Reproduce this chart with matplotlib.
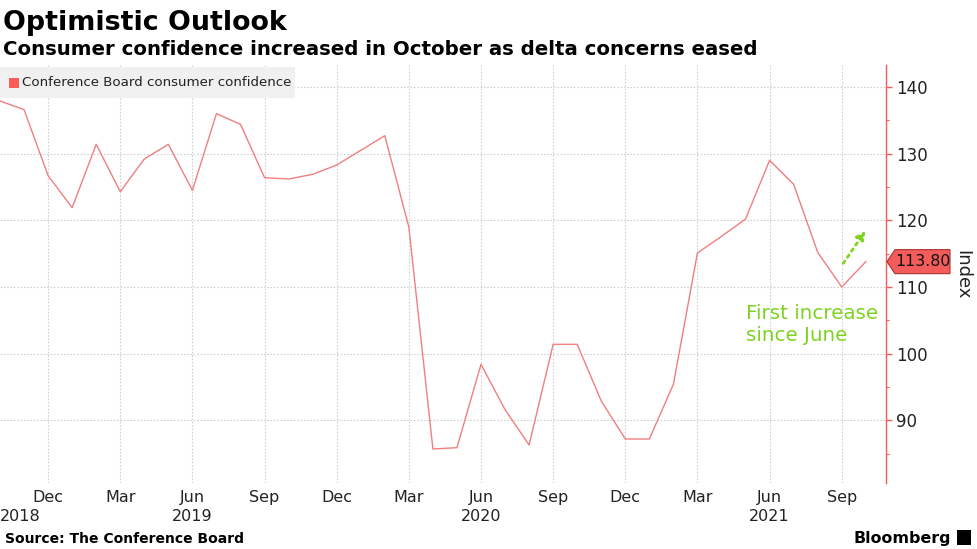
import numpy as np
import matplotlib
matplotlib.use("Agg")
import matplotlib.pyplot as plt
from matplotlib.transforms import blended_transform_factory, IdentityTransform

# monthly index, Oct 2018 .. Oct 2021
confidence = [137.9, 136.6, 126.7, 121.9, 131.4, 124.3, 129.2, 131.4, 124.5,
              136.0, 134.4, 126.4, 126.2, 126.9, 128.3, 130.5, 132.7, 119.0,
              85.7, 85.9, 98.4, 91.6, 86.3, 101.4, 101.4, 92.9, 87.2, 87.2,
              95.4, 115.1, 117.6, 120.2, 129.0, 125.4, 115.2, 110.0, 113.8]
tick_months = ["Dec", "Mar", "Jun", "Sep"] * 3
year_labels = {0: "2018", 8: "2019", 20: "2020", 32: "2021"}
y_ticks = [90, 100, 110, 120, 130, 140]

LINE = "#f07f80"
RED = "#f45b5b"
GREEN = "#7ed321"
TXT = "#222222"

plt.rcParams["font.family"] = ["DejaVu Sans"]

fig = plt.figure(figsize=(9.77, 5.49), dpi=100)
ax = fig.add_axes([0.0, 1 - 483 / 549, 886 / 977, (483 - 65) / 549])

x = np.arange(len(confidence))
ax.plot(x, confidence, color=LINE, lw=1.0, zorder=3)

ax.set_xlim(0, 36.84)
ax.set_ylim(80.6, 143.3)

# axes styling
for s in ["left", "top", "bottom"]:
    ax.spines[s].set_visible(False)
ax.spines["right"].set_color(RED)
ax.spines["right"].set_linewidth(1.0)
ax.yaxis.tick_right()
ax.set_yticks(y_ticks)
ax.set_yticks(np.arange(85, 141, 5), minor=True)
ax.tick_params(axis="y", which="major", colors=RED, length=4, width=1,
               labelcolor=TXT, labelsize=12, pad=3)
ax.tick_params(axis="y", which="minor", colors=RED, length=2.5, width=0.8)

xt = np.arange(2, 37, 3)
ax.set_xticks(xt)
ax.set_xticklabels(tick_months)
ax.tick_params(axis="x", length=0, labelsize=11.5, labelcolor=TXT, pad=5)
ax.grid(True, color="#d0d0d0", ls=(0, (1.5, 1.5)), lw=0.8)

# year labels under the month labels
tr = blended_transform_factory(ax.transData, fig.transFigure)
for i, yr in year_labels.items():
    ax.text(i, 1 - 521 / 549, yr, transform=tr, fontsize=11.5, color=TXT,
            ha="left" if i == 0 else "center", va="baseline")

# legend
fig.patches.append(plt.Rectangle((0, 1 - 98 / 549), 295 / 977, 31 / 549,
                                 transform=fig.transFigure, fc="#f0f0f0",
                                 ec="none", zorder=5))
fig.patches.append(plt.Rectangle((9 / 977, 1 - 88 / 549), 10 / 977, 10 / 549,
                                 transform=fig.transFigure, fc="#ff5a5a",
                                 ec="none", zorder=6))
fig.text(22 / 977, 1 - 83 / 549, "Conference Board consumer confidence",
         fontsize=9.6, color=TXT, va="center", zorder=7)

# last value tag drawn in pixels next to the axis
px, py = ax.transData.transform((ax.get_xlim()[1], confidence[-1]))
tag = plt.Polygon([(px + 1, py), (px + 9, py - 12), (px + 64, py - 12),
                   (px + 64, py + 12), (px + 9, py + 12)], closed=True,
                  transform=IdentityTransform(), fc=RED, ec="#a83232", lw=0.8)
fig.patches.append(tag)
fig.text((px + 37) / 977, py / 549, f"{confidence[-1]:.2f}", fontsize=11.3,
         color="#111111", ha="center", va="center")
fig.text(962 / 977, 1 - 275 / 549, "Index", rotation=-90, fontsize=13,
         color=TXT, ha="center", va="center")

# annotation
ax.annotate("", xy=(36.05, 118.8), xytext=(35.0, 113.2),
            arrowprops=dict(arrowstyle="-|>", color=GREEN, lw=2.0, ls=":",
                            mutation_scale=13))
ax.text(31.0, 107.4, "First increase\nsince June", color=GREEN, fontsize=14.3,
        ha="left", va="top", linespacing=1.15)

# titles and footer
fig.text(0.003, 1 - 30 / 549, "Optimistic Outlook", fontsize=19.4,
         fontweight="bold", va="baseline", color="black")
fig.text(0.003, 1 - 55 / 549,
         "Consumer confidence increased in October as delta concerns eased",
         fontsize=14.2, fontweight="bold", va="baseline", color="black")
fig.text(0.005, 1 - 543 / 549, "Source: The Conference Board", fontsize=10,
         fontweight="bold", va="baseline", color="black")
fig.text(951 / 977, 1 - 543 / 549, "Bloomberg", fontsize=11.4,
         fontweight="bold", va="baseline", ha="right", color="black")
fig.patches.append(plt.Rectangle((957 / 977, 1 - 545 / 549), 14 / 977,
                                 15 / 549, transform=fig.transFigure,
                                 fc="black", ec="none"))

fig.savefig("out.png", dpi=100)
